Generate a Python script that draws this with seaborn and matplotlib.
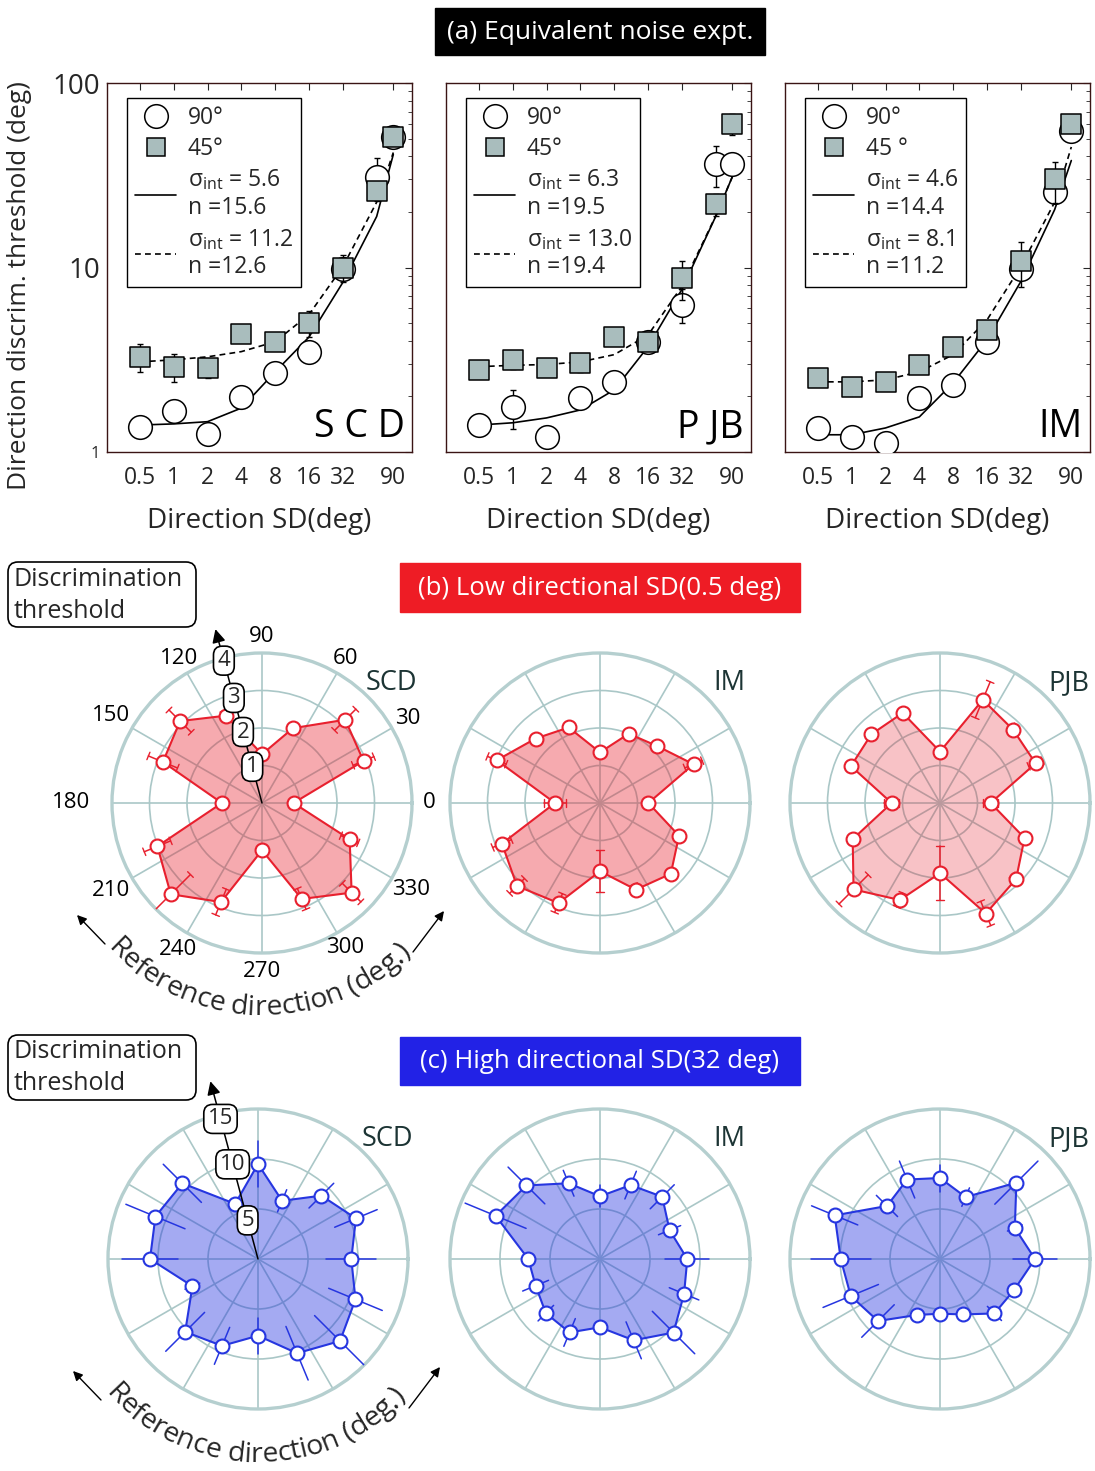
import numpy as np
import matplotlib
matplotlib.use("Agg")
import matplotlib.pyplot as plt
import seaborn as sns
from matplotlib.lines import Line2D
from matplotlib.patches import Rectangle, FancyBboxPatch
from matplotlib.ticker import NullLocator, NullFormatter
from matplotlib.textpath import TextToPath
from matplotlib.font_manager import FontProperties

sns.set_theme(style="white")
plt.rcParams["font.family"] = ["Open Sans", "DejaVu Sans"]
plt.rcParams["mathtext.fontset"] = "custom"
plt.rcParams["mathtext.rm"] = "Open Sans"
plt.rcParams["mathtext.it"] = "Open Sans:italic"
plt.rcParams["mathtext.bf"] = "Open Sans:bold"

W, H = 1095, 1471

# ---------------- (a) equivalent noise data ----------------
sd_levels = [0.5, 1, 2, 4, 8, 16, 32, 64, 90]
sd_ticks = [0.5, 1, 2, 4, 8, 16, 32, 90]
sd_ticklabels = ["0.5", "1", "2", "4", "8", "16", "32", "90"]

scd_90 = [1.37, 1.67, 1.25, 1.99, 2.69, 3.5, 9.8, 31, 51]
scd_45 = [3.28, 2.9, 2.86, 4.38, 3.96, 5.0, 10.0, 25.9, 51]
scd_90_err = [0, 0, 0, 0, 0, 0, 0, 8, 0]
scd_45_err = [0.55, 0.5, 0.35, 0, 0, 0.8, 1.7, 0, 0]
scd_fit90 = [1.4, 1.42, 1.46, 1.73, 2.72, 4.2, 8.3, 18.9, 41]
scd_fit45 = [3.08, 3.16, 3.28, 3.5, 3.96, 5.56, 10.1, 22.6, 42]

pjb_90 = [1.40, 1.76, 1.21, 1.97, 2.4, 3.96, 6.3, 36.3, 36.3]
pjb_45 = [2.79, 3.16, 2.86, 3.05, 4.22, 3.96, 8.8, 22, 60]
pjb_90_err = [0, 0.42, 0, 0, 0, 0, 1.3, 9, 0]
pjb_45_err = [0.1, 0.35, 0, 0.35, 0, 0, 2.1, 3, 8]
pjb_fit90 = [1.40, 1.44, 1.53, 1.69, 2.17, 3.72, 7.6, 18.9, 31]
pjb_fit45 = [2.9, 2.95, 2.98, 3.08, 3.37, 4.3, 7.9, 19, 31]

im_90 = [1.35, 1.21, 1.12, 1.97, 2.31, 3.96, 9.76, 25.5, 55]
im_45 = [2.52, 2.26, 2.4, 2.97, 3.72, 4.6, 10.8, 30, 60]
im_90_err = [0, 0.15, 0, 0, 0, 0, 0, 0, 0]
im_45_err = [0, 0, 0, 0.3, 0, 0, 3, 7.5, 0]
im_fit90 = [1.24, 1.24, 1.35, 1.55, 2.37, 4.06, 8.4, 20.6, 38]
im_fit45 = [2.4, 2.4, 2.46, 2.72, 3.37, 5.2, 10.1, 22.6, 45]

top_names = ["S C D", "P JB", "IM"]
top_45_labels = ["45°", "45°", "45 °"]
top_fit_solid = ["σ$_{\\rm int}$ = 5.6\nn =15.6", "σ$_{\\rm int}$ = 6.3\nn =19.5", "σ$_{\\rm int}$ = 4.6\nn =14.4"]
top_fit_dashed = ["σ$_{\\rm int}$ = 11.2\nn =12.6", "σ$_{\\rm int}$ = 13.0\nn =19.4", "σ$_{\\rm int}$ = 8.1\nn =11.2"]

# ---------------- (b), (c) polar data ----------------
directions = [0, 22.5, 45, 67.5, 90, 112.5, 135, 157.5, 180, 202.5, 225, 247.5, 270, 292.5, 315, 337.5]

scd_low = [0.84, 2.93, 3.14, 2.16, 1.3, 2.52, 3.09, 2.86, 1.07, 3.02, 3.44, 2.86, 1.26, 2.77, 3.38, 2.53]
im_low = [1.29, 2.70, 2.15, 2.0, 1.35, 2.18, 2.43, 2.98, 1.2, 2.83, 3.13, 2.89, 1.82, 2.5, 2.67, 2.28]
pjb_low = [1.35, 2.76, 2.76, 2.98, 1.37, 2.6, 2.59, 2.57, 1.29, 2.52, 3.26, 2.8, 1.87, 3.19, 2.87, 2.44]
scd_low_err = [0.1, 0.3, 0.4, 0.1, 0.1, 0.15, 0.42, 0.42, 0.1, 0.38, 0.74, 0.37, 0.1, 0.3, 0.35, 0.25]
im_low_err = [0.1, 0.25, 0.1, 0.1, 0.1, 0.1, 0.1, 0.27, 0.3, 0.27, 0.28, 0.27, 0.55, 0.15, 0.1, 0.1]
pjb_low_err = [0.2, 0.2, 0.15, 0.52, 0.1, 0.1, 0.1, 0.1, 0.2, 0.1, 0.55, 0.2, 0.72, 0.35, 0.15, 0.1]

scd_high = [9.33, 10.6, 8.96, 6.3, 9.5, 5.97, 10.7, 11.1, 10.8, 7.1, 10.3, 9.4, 7.67, 10.2, 11.6, 10.55]
im_high = [8.73, 7.53, 8.8, 8.0, 6.27, 8.2, 10.4, 11.3, 7.17, 6.97, 7.66, 7.95, 6.83, 8.8, 10.4, 9.1]
pjb_high = [9.5, 8.1, 10.8, 6.7, 8.1, 8.6, 7.5, 11.4, 9.93, 9.66, 8.77, 6.06, 5.47, 6.0, 7.7, 8.04]
scd_high_err = [2.5, 2.3, 1.75, 1.2, 2.3, 0.5, 2.7, 3.2, 2.8, 0.8, 2.75, 2.0, 1.8, 2.9, 3.6, 2.9]
im_high_err = [2.2, 1.2, 1.7, 1.5, 1.1, 1.4, 2.6, 3.3, 0.3, 1.4, 1.1, 1.5, 0.5, 2.0, 3.0, 1.6]
pjb_high_err = [2.2, 0.8, 3.05, 1.0, 1.35, 2.0, 1.5, 2.5, 3.0, 3.0, 2.3, 0.5, 0.3, 0.3, 1.0, 0.6]

polar_names = ["SCD", "IM", "PJB"]
angle_labels = ["0", "30", "60", "90", "120", "150", "180", "210", "240", "270", "300", "330"]
angle_label_r = [4.45, 4.5, 4.45, 4.45, 4.45, 4.65, 5.1, 4.65, 4.5, 4.5, 4.45, 4.6]
low_rings = [1, 2, 3, 4]
high_rings = [5, 10, 15]

RED = "#e8202e"
BLUE = "#2636e0"
GRID = "#aac7c7"


def px_rect(left, top, width, height):
    return [left / W, 1 - (top + height) / H, width / W, height / H]


fig = plt.figure(figsize=(W / 100, H / 100), dpi=100)

# ------------------------------------------------------------
#  (a) three log-log panels
# ------------------------------------------------------------
top_sets = [
    (scd_90, scd_45, scd_90_err, scd_45_err, scd_fit90, scd_fit45),
    (pjb_90, pjb_45, pjb_90_err, pjb_45_err, pjb_fit90, pjb_fit45),
    (im_90, im_45, im_90_err, im_45_err, im_fit90, im_fit45),
]
sq_color = "#a9bdbd"

for i, (left, data) in enumerate(zip([107, 446, 785], top_sets)):
    v90, v45, e90, e45, f90, f45 = data
    ax = fig.add_axes(px_rect(left, 83, 305, 369))
    ax.set_xscale("log", base=2)
    ax.set_yscale("log")

    sns.lineplot(x=sd_levels, y=f90, ax=ax, color="black", linewidth=1.2,
                 estimator=None, sort=False, zorder=2)
    sns.lineplot(x=sd_levels, y=f45, ax=ax, color="black", linewidth=1.2,
                 linestyle=(0, (3.5, 2.5)), estimator=None, sort=False, zorder=2)
    ax.errorbar(sd_levels, v90, yerr=e90, fmt="none", ecolor="black",
                elinewidth=1, capsize=2.5, zorder=3)
    sns.scatterplot(x=sd_levels, y=v90, ax=ax, marker="o", s=290, color="white",
                    edgecolor="black", linewidth=1.1, zorder=4)
    ax.errorbar(sd_levels, v45, yerr=e45, fmt="none", ecolor="black",
                elinewidth=1, capsize=2.5, zorder=5)
    sns.scatterplot(x=sd_levels, y=v45, ax=ax, marker="s", s=200, color=sq_color,
                    edgecolor="black", linewidth=1.1, zorder=6)

    ax.set_xlim(0.255, 132)
    ax.set_ylim(1, 100)
    ax.set_xticks(sd_ticks)
    ax.set_xticklabels(sd_ticklabels, fontsize=16.5)
    ax.xaxis.set_minor_locator(NullLocator())
    ax.set_yticks([1, 10, 100])
    ax.yaxis.set_minor_formatter(NullFormatter())
    if i == 0:
        ax.set_yticklabels(["1", "10", "100"])
        sizes = [12, 20, 20]
        for lbl, fs in zip(ax.get_yticklabels(), sizes):
            lbl.set_fontsize(fs)
        ax.set_ylabel("Direction discrim. threshold (deg)", fontsize=19)
        ax.yaxis.set_label_coords(-0.245, 0.45)
    else:
        ax.set_yticklabels([])
    ax.tick_params(which="both", direction="in", top=True, right=True)
    ax.tick_params(which="major", length=5, width=0.8, pad=10)
    ax.tick_params(axis="y", which="major", pad=5)
    ax.tick_params(which="minor", length=3, width=0.6)
    ax.set_xlabel("Direction SD(deg)", fontsize=20)
    ax.xaxis.set_label_coords(0.5, -0.15)
    for sp in ax.spines.values():
        sp.set_color("#3a1414")
        sp.set_linewidth(1)

    handles = [
        Line2D([], [], marker="o", ls="none", markersize=17, mfc="white", mec="black", mew=1.1),
        Line2D([], [], marker="s", ls="none", markersize=13.5, mfc=sq_color, mec="black", mew=1.1),
        Line2D([], [], color="black", lw=1.2),
        Line2D([], [], color="black", lw=1.2, ls=(0, (3.5, 2.5))),
    ]
    labels = ["90°", top_45_labels[i], top_fit_solid[i], top_fit_dashed[i]]
    leg = ax.legend(handles, labels, loc="upper left", bbox_to_anchor=(0.066, 0.96),
                    borderaxespad=0, fontsize=16.5, frameon=True, fancybox=False,
                    edgecolor="black", framealpha=1, borderpad=0.35,
                    handlelength=1.8, handletextpad=0.5, labelspacing=0.3)
    leg.get_frame().set_linewidth(1)
    ax.text(0.975, 0.04, top_names[i], transform=ax.transAxes, ha="right",
            va="baseline", fontsize=27, color="black")

# ------------------------------------------------------------
#  (b), (c) polar panels
# ------------------------------------------------------------


def draw_polar(cx, cy, vals, errs, color, fill_alpha, rings, caps, name, labels_on):
    rad = 150
    ax = fig.add_axes(px_rect(cx - rad, cy - rad, 2 * rad, 2 * rad), projection="polar")
    rmax = rings[-1]
    px_unit = rad / rmax
    th = np.deg2rad(directions)
    th_c = np.append(th, th[0])
    r_c = np.append(vals, vals[0])

    ax.fill(th_c, r_c, color=color, alpha=fill_alpha, lw=0, zorder=2)
    sns.lineplot(x=th_c, y=r_c, ax=ax, color=color, linewidth=1.5,
                 sort=False, estimator=None, zorder=3)
    for t, v, e in zip(th, vals, errs):
        ax.plot([t, t], [v - e, v + e], color=color, lw=1.1, zorder=3)
        if caps:
            for rr in (v - e, v + e):
                d = 4.0 / (rr * px_unit)
                ax.plot([t - d, t + d], [rr, rr], color=color, lw=1.0, zorder=3)
    sns.scatterplot(x=th, y=vals, ax=ax, s=100, color="white", edgecolor=color,
                    linewidth=1.5, zorder=5)

    ax.set_ylim(0, rmax)
    ax.set_yticks(rings[:-1])
    ax.set_yticklabels([])
    ax.set_xticks(np.deg2rad(np.arange(0, 360, 30)))
    ax.set_xticklabels([])
    ax.set_xlabel("")
    ax.set_ylabel("")
    ax.grid(True, color=GRID, lw=1.2)
    ax.spines["polar"].set_color("#b5cfcf")
    ax.spines["polar"].set_linewidth(2.4)
    ax.text(0.93, 0.9, name, transform=ax.transAxes, ha="center", va="center",
            fontsize=19.5, color="#1c3434")
    if labels_on:
        for lab, lr in zip(angle_labels, angle_label_r):
            ax.text(np.deg2rad(float(lab)), lr * rmax / 4, lab, ha="center",
                    va="center", fontsize=16, color="black")
    return ax


low_sets = [(scd_low, scd_low_err), (im_low, im_low_err), (pjb_low, pjb_low_err)]
high_sets = [(scd_high, scd_high_err), (im_high, im_high_err), (pjb_high, pjb_high_err)]
low_alpha = [0.38, 0.38, 0.27]

low_axes = []
for j, (cx, (vals, errs)) in enumerate(zip([262, 600, 940], low_sets)):
    low_axes.append(draw_polar(cx, 803, vals, errs, RED, low_alpha[j], low_rings,
                               True, polar_names[j], j == 0))
high_axes = []
for j, (cx, (vals, errs)) in enumerate(zip([258, 600, 940], high_sets)):
    high_axes.append(draw_polar(cx, 1259, vals, errs, BLUE, 0.42, high_rings,
                                False, polar_names[j], False))

# threshold scale arrow with numbered boxes
axis_theta = np.deg2rad(105)
for ax, ticks, tick_r, tip in [
    (low_axes[0], ["1", "2", "3", "4"], [1.0, 1.96, 2.9, 3.93], 4.8),
    (high_axes[0], ["5", "10", "15"], [4.0, 9.8, 14.5], 18.4),
]:
    ax.annotate("", xy=(axis_theta, tip), xytext=(axis_theta, 0),
                arrowprops=dict(arrowstyle="-|>", color="black", lw=1.1,
                                mutation_scale=20, shrinkA=0, shrinkB=0),
                annotation_clip=False, zorder=7)
    for lab, rr in zip(ticks, tick_r):
        ax.text(axis_theta, rr, lab, ha="center", va="center", fontsize=16, zorder=8,
                bbox=dict(boxstyle="round,pad=0.18,rounding_size=0.4", fc="white",
                          ec="black", lw=1.2))

# ------------------------------------------------------------
#  overlay: title boxes, labels, curved axis text
# ------------------------------------------------------------
ov = fig.add_axes([0, 0, 1, 1], zorder=20)
ov.set_xlim(0, W)
ov.set_ylim(H, 0)
ov.axis("off")
ov.patch.set_visible(False)

ov.add_patch(Rectangle((435, 8), 330, 47, color="black"))
ov.text(600, 32, "(a) Equivalent noise expt.", ha="center", va="center",
        fontsize=19, color="white")
ov.add_patch(Rectangle((400, 563), 400, 49, color="#ee1c25"))
ov.text(600, 588, "(b) Low directional SD(0.5 deg)", ha="center", va="center",
        fontsize=18.5, color="white")
ov.add_patch(Rectangle((400, 1037), 400, 48, color="#2222e6"))
ov.text(600, 1061, "(c) High directional SD(32 deg)", ha="center", va="center",
        fontsize=18.5, color="white")

for top in (562, 1035):
    ov.add_patch(FancyBboxPatch((8, top), 188, 65,
                                boxstyle="round,pad=0,rounding_size=10",
                                fc="white", ec="black", lw=1.2))
    ov.text(14, top + 17, "Discrimination", ha="left", va="center", fontsize=18)
    ov.text(14, top + 49, "threshold", ha="left", va="center", fontsize=18)


def arc_text(cx, cy, radius, center_deg, s, size):
    prop = FontProperties(family="Open Sans", size=size)
    ttp = TextToPath()
    scale = 100 / 72
    widths = [0.0] + [ttp.get_text_width_height_descent(s[:k], prop, ismath=False)[0] * scale
                      for k in range(1, len(s) + 1)]
    start = np.deg2rad(center_deg) - widths[-1] / (2 * radius)
    for k, ch in enumerate(s):
        if ch == " ":
            continue
        mid = (widths[k] + widths[k + 1]) / 2
        ang = start + mid / radius
        ov.text(cx + radius * np.cos(ang), cy - radius * np.sin(ang), ch,
                fontsize=size, rotation=np.rad2deg(ang) + 90, ha="center",
                va="baseline", rotation_mode="anchor")


for cx, cy, arc_r in [(262, 803, 212), (258, 1259, 203)]:
    arc_text(cx, cy, arc_r, 269, "Reference direction (deg.)", 20.5)
    ov.annotate("", xy=(cx - 185, cy + 112), xytext=(cx - 157, cy + 141),
                arrowprops=dict(arrowstyle="-|>", color="black", lw=1,
                                mutation_scale=14, shrinkA=0, shrinkB=0))
    ov.annotate("", xy=(cx + 182, cy + 108), xytext=(cx + 151, cy + 149),
                arrowprops=dict(arrowstyle="-|>", color="black", lw=1,
                                mutation_scale=14, shrinkA=0, shrinkB=0))

fig.savefig("out.png", dpi=100)
